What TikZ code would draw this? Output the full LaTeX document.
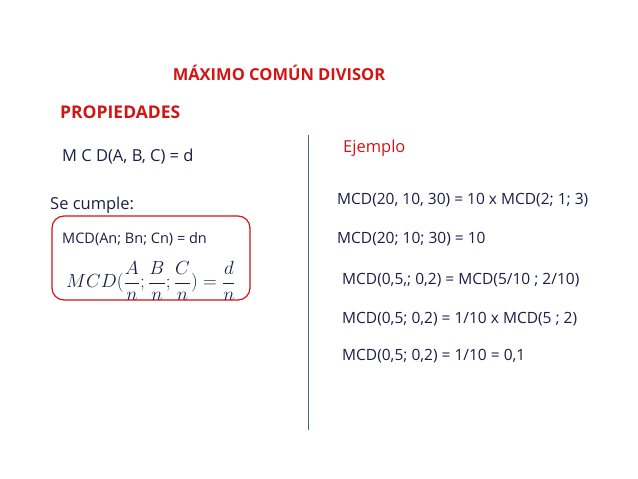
\documentclass[tikz,border=0pt]{standalone}
\usepackage{fontspec}
\setmainfont{Open Sans}
\definecolor{tred}{RGB}{210,20,20}
\definecolor{tblue}{RGB}{25,30,70}
\definecolor{lblue}{RGB}{70,100,140}
\begin{document}
\begin{tikzpicture}[x=1pt,y=-1pt,
  red1/.style={text=tred,font=\bfseries\fontsize{16.5}{19}\selectfont},
  body/.style={text=tblue,font=\fontsize{15.5}{18}\selectfont,anchor=west,inner sep=0pt},
  big/.style={body,font=\fontsize{16.5}{19}\selectfont}]
\useasboundingbox (0,0) rectangle (638,479);
\node[red1] (t) at (279,73) {MÁXIMO COMÚN DIVISOR};
\node[red1,anchor=west,inner sep=0pt,font=\bfseries\fontsize{17.5}{20}\selectfont] (p) at (60,112) {PROPIEDADES};
\node[big] (m) at (62,157) {M C D(A, B, C) = d};
\node[big] (s) at (50,205) {Se cumple:};
\draw[tred,line width=1.2pt,rounded corners=12pt] (52,216) rectangle (250,300);
\node[body,font=\fontsize{14.5}{17}\selectfont] (a) at (62,239) {MCD(An; Bn; Cn) = dn};
\node[body,font=\fontsize{16}{18}\selectfont,scale=1.1] (f) at (66,281) {$\displaystyle MCD(\frac{A}{n};\frac{B}{n};\frac{C}{n})=\frac{d}{n}$};
\draw[lblue,line width=0.8pt] (308,135) -- (308,430);
\node[text=tred,font=\fontsize{16.5}{19}\selectfont,anchor=west,inner sep=0pt] (e) at (343,148) {Ejemplo};
\node[body] (e1) at (337,200) {MCD(20, 10, 30) = 10 x MCD(2; 1; 3)};
\node[body] (e2) at (337,239) {MCD(20; 10; 30) = 10};
\node[body] (e3) at (342,280) {MCD(0,5,; 0,2) = MCD(5/10 ; 2/10)};
\node[body] (e4) at (342,319) {MCD(0,5; 0,2) = 1/10 x MCD(5 ; 2)};
\node[body] (e5) at (342,356) {MCD(0,5; 0,2) = 1/10 = 0,1};
\end{tikzpicture}
\end{document}
